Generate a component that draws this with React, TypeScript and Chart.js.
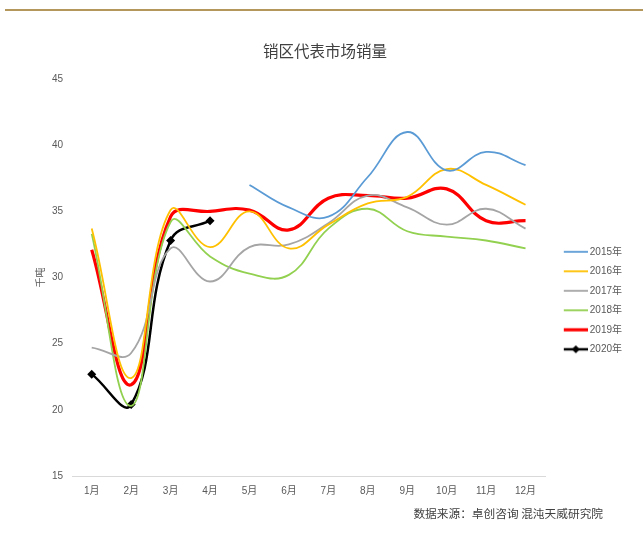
import React, { useEffect, useRef } from 'react';
import { Chart, registerables } from 'chart.js';

Chart.register(...registerables);

const months = ['1月', '2月', '3月', '4月', '5月', '6月', '7月', '8月', '9月', '10月', '11月', '12月'];
const seriesNames = ['2015年', '2016年', '2017年', '2018年', '2019年', '2020年'];
const s2015 = [null, null, null, null, 37.0, 35.3, 34.6, 37.6, 41.0, 38.1, 39.5, 38.5];
const s2016 = [33.7, 22.4, 35.1, 32.3, 35.0, 32.2, 34.0, 35.6, 36.1, 38.2, 37.0, 35.5];
const s2017 = [24.7, 24.3, 32.2, 29.7, 32.3, 32.5, 34.1, 36.2, 35.3, 34.0, 35.2, 33.7];
const s2018 = [33.3, 20.3, 34.2, 31.6, 30.3, 30.2, 33.7, 35.2, 33.5, 33.1, 32.8, 32.2];
const s2019 = [32.1, 21.9, 34.6, 35.0, 35.1, 33.6, 36.0, 36.2, 36.0, 36.7, 34.3, 34.3];
const s2020 = [22.7, 20.4, 32.8, 34.3, null, null, null, null, null, null, null, null];
const yMin = 15;
const yMax = 45;
const yStep = 5;
const titleText = '销区代表市场销量';
const yTitle = '千吨';
const sourceText = '数据来源：卓创咨询 混沌天威研究院';

const colors = ['#5B9BD5', '#FFC000', '#A5A5A5', '#92D050', '#FF0000', '#000000'];
const widths = [1.8, 1.8, 1.8, 1.8, 3.2, 2.5];

const CJK = '"Noto Sans CJK SC", sans-serif';
const NUM = '"Liberation Sans Narrow", "Liberation Sans", "Noto Sans CJK SC", sans-serif';

function legendImage(color: string, lw: number, diamond: boolean) {
  const c = document.createElement('canvas');
  c.width = 36;
  c.height = 10;
  const ctx = c.getContext('2d')!;
  ctx.strokeStyle = color;
  ctx.lineWidth = lw;
  ctx.beginPath();
  ctx.moveTo(12, 5);
  ctx.lineTo(36, 5);
  ctx.stroke();
  if (diamond) {
    ctx.fillStyle = color;
    ctx.beginPath();
    ctx.moveTo(24, 1);
    ctx.lineTo(28, 5);
    ctx.lineTo(24, 9);
    ctx.lineTo(20, 5);
    ctx.closePath();
    ctx.fill();
  }
  return c;
}

const decor = {
  id: 'decor',
  afterDraw(chart: any) {
    const ctx = chart.ctx;
    ctx.save();
    ctx.fillStyle = '#B4975A';
    ctx.fillRect(5, 9, 638, 2);
    ctx.font = '11.7px ' + CJK;
    ctx.fillStyle = '#404040';
    ctx.textAlign = 'right';
    ctx.textBaseline = 'middle';
    ctx.fillText(sourceText, 603, 514);
    ctx.restore();
  },
};

export default function App() {
  const ref = useRef<HTMLCanvasElement>(null);
  useEffect(() => {
    const all = [s2015, s2016, s2017, s2018, s2019, s2020];
    const images = all.map((_, i) => legendImage(colors[i], widths[i], i === 5));
    const chart = new Chart(ref.current!, {
      type: 'line',
      data: {
        labels: months,
        datasets: all.map((d, i) => ({
          label: seriesNames[i],
          data: d,
          borderColor: colors[i],
          backgroundColor: colors[i],
          borderWidth: widths[i],
          tension: 0.42,
          pointRadius: i === 5 ? 4.5 : 0,
          pointStyle: 'rectRot',
          pointBackgroundColor: colors[i],
          pointBorderWidth: 0,
          spanGaps: false,
        })),
      },
      options: {
        animation: false,
        responsive: false,
        layout: { padding: { left: 18, right: 11, top: 0, bottom: 41 } },
        plugins: {
          tooltip: { enabled: false },
          title: {
            display: true,
            text: titleText,
            color: '#404040',
            font: { family: CJK, size: 15.5, weight: 'normal' },
            padding: { top: 41.5, bottom: 19 },
          },
          legend: {
            position: 'right',
            fullSize: false,
            align: 'center',
            title: { display: true, text: ' ', font: { size: 10 }, padding: { top: 34, bottom: 0 } },
            labels: {
              usePointStyle: true,
              pointStyleWidth: 30,
              boxHeight: 10,
              padding: 9.5,
              color: '#595959',
              font: { family: NUM, size: 10 },
              generateLabels: (ch: any) => {
                const items = Chart.defaults.plugins.legend.labels.generateLabels(ch);
                return items.map((it: any, i: number) => ({ ...it, pointStyle: images[i], lineWidth: 0 }));
              },
            },
          },
        },
        scales: {
          x: {
            offset: true,
            grid: { display: false, drawTicks: false, offset: true },
            border: { color: '#D9D9D9', width: 1 },
            ticks: { padding: 9, color: '#595959', font: { family: NUM, size: 10 } },
          },
          y: {
            min: yMin,
            max: yMax,
            grid: { display: false, drawTicks: false },
            border: { display: false },
            ticks: { stepSize: yStep, padding: 9, color: '#595959', font: { family: NUM, size: 10 } },
            title: {
              display: true,
              text: yTitle,
              color: '#595959',
              font: { family: CJK, size: 10 },
              padding: { top: 16, bottom: 4 },
            },
            afterFit: (s: any) => {
              s.width = 54;
            },
          },
        },
      },
      plugins: [decor],
    });
    return () => chart.destroy();
  }, []);
  return (
    <div style={{ position: 'absolute', left: 0, top: 0, width: 643, height: 547, background: '#fff' }}>
      <canvas ref={ref} width={643} height={547} />
    </div>
  );
}
